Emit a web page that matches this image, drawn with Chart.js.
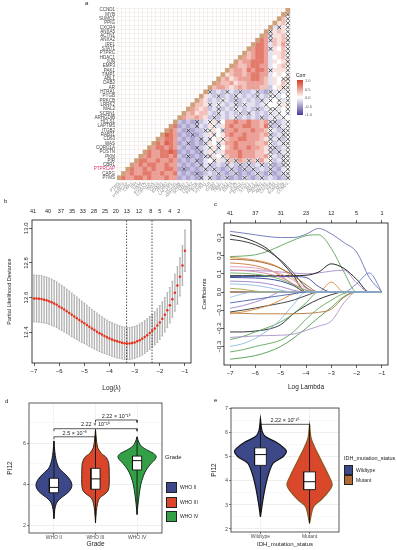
<!DOCTYPE html>
<html>
<head>
<meta charset="utf-8">
<title>Figure panels a-e</title>
<script src="https://cdn.jsdelivr.net/npm/chart.js@4.4.1/dist/chart.umd.min.js"></script>
<style>
  html, body { margin: 0; padding: 0; background: #fff; }
  body { position: relative; width: 397px; height: 550px; overflow: hidden;
         font-family: "Liberation Sans", Arial, sans-serif; color: #222; }
  canvas { position: absolute; }
  .txt { position: absolute; white-space: nowrap; line-height: 1; }
  .key { position: absolute; box-sizing: border-box; border: 1px solid #222; }
</style>
</head>
<body>
  <canvas id="corrChart" width="300" height="197" style="left:0px;top:0px"></canvas>
  <canvas id="cvChart" width="197" height="198" style="left:0px;top:197px"></canvas>
  <canvas id="pathChart" width="200" height="198" style="left:197px;top:197px"></canvas>
  <canvas id="gradeChart" width="200" height="155" style="left:0px;top:395px"></canvas>
  <canvas id="idhChart" width="197" height="155" style="left:200px;top:395px"></canvas>

  <div class="txt" style="left:85px;top:0px;font-size:6px">a</div>
  <div class="txt" style="left:4px;top:198px;font-size:6px">b</div>
  <div class="txt" style="left:214px;top:201px;font-size:6px">c</div>
  <div class="txt" style="left:5px;top:398px;font-size:6px">d</div>
  <div class="txt" style="left:214px;top:397px;font-size:6px">e</div>

  <div id="corrLegend"></div>
  <div id="gradeLegend"></div>
  <div id="idhLegend"></div>

<script>
document.addEventListener('DOMContentLoaded', () => {

  /* ---------- a: correlation heatmap ---------- */
  const genes = ['CCND1','MYB','SUMO1','PPIG','CXCR4','ANXA5','ACTN1','ANXA2','IRF1','STAT1',
    'PTPRC','HDAC1','JUN','EMP3','PAK1','TIMP1','ABL1','DAB2','AR','HTRA1',
    'PYGB','PRKCB','LRRK2','MAL2','SCRN1','ARHGDIB','HCLS1','LAPTM5','ITGB2','RAB31',
    'CD63','WAS','CORO1A','POSTN','PKM','PIR','CBR1','PTPRCAP','CAPG','PTMS'];

  // one string per row, cells left→right up to the last column;
  // letter = correlation level, upper case = not significant (crossed)
  const corrRows = [
    '', 'F', 'gE', 'fgE', 'dDfE', 'DfgfE', 'hDffgE', 'ihDgfgF', 'iihdgfhE', 'hiihDfegE',
    'ghiihdffgE', 'hghiihdefgE', 'ghhiiihdfefF', 'hgghiihhdefgE', 'ghhgihiihDfffE',
    'fghhghiihhdefeE', 'ghfghhhiihgdfeEF', 'hgghfgghhhhgdfegE', 'ghhgfghghhhggcefFE',
    'DcdcDdcDccdDcbDdEdE',
    'fdcDcdcDdcdcDdcEEdeE',
    'gfcdcEdcDcdcdcDdEeEdE',
    'ggfDdEdcdDcEddcdEeeEfE',
    'hgfgcdDcdcEdcdcDcdEEdeE',
    'ghfggdcDdcdcEcDdcdcEdEeE',
    'hgghgfcDcdcdEcdcdcDcdEdEe',
    'cbcbCcdEfDehhihhihhghDDcdE',
    'ibcbcCdcfEdfhihhiihhgiDcDdE',
    'ihcbCbccDEfeDhhihhhihhgEdcDE',
    'jihbcbCbcdfDefhihhihhhghDcdDE',
    'hiihcbcbcCdDefEghhiihhhgfDdDcE',
    'ihjihbcCbcbDfeDfhhihhhhgghEcdDE',
    'hiihihcbcbCcdEfDeghihhihhgfDDcdE',
    'ihhiijibcbcbCdfEdfhhhihhhggfDcDdE',
    'hihhiihicbCbcbDDfeEghhihhhgghEdcDE',
    'iihhihhihbcbcCbdeDfdDgDhgDgDhfEcdDE',
    'hihiihhihhcbcbcCdDcdcDdcDcDcdDcEbcDE',
    'ihhihihhiihbCbcbcDcDcbcDcbDcDcdcDcbdE',
    'hihhiihhihhicbcbCbcdcDcbcDbcbcDcbDbcDE',
    'ihhiihihhhihhbcbcbCdDcbcDbcbDcbcDcdcbcD'
  ];
  const corrLevels = { a: -0.6, b: -0.45, c: -0.3, d: -0.15, e: 0, f: 0.15, g: 0.32, h: 0.48, i: 0.68, j: 0.82 };
  const corrTickLabels = ['1.0', '0.5', '0.0', '-0.5', '-1.0'];

  /* ---------- b: cross-validation curve ---------- */
  const cvLogLambda = [-7.0,-6.9,-6.8,-6.7,-6.6,-6.5,-6.4,-6.3,-6.2,-6.1,
    -6.0,-5.9,-5.8,-5.7,-5.6,-5.5,-5.4,-5.3,-5.2,-5.1,
    -5.0,-4.9,-4.8,-4.7,-4.6,-4.5,-4.4,-4.3,-4.2,-4.1,
    -4.0,-3.9,-3.8,-3.7,-3.6,-3.5,-3.4,-3.3,-3.2,-3.1,
    -3.0,-2.9,-2.8,-2.7,-2.6,-2.5,-2.4,-2.3,-2.2,-2.1,
    -2.0,-1.9,-1.8,-1.7,-1.6,-1.5,-1.4,-1.3,-1.2,-1.1,-1.0];
  const cvMean = [12.595,12.594,12.593,12.591,12.588,12.584,12.579,12.573,12.566,12.558,
    12.549,12.540,12.531,12.521,12.511,12.500,12.490,12.480,12.470,12.460,
    12.451,12.441,12.431,12.421,12.412,12.403,12.394,12.386,12.378,12.371,
    12.364,12.358,12.352,12.347,12.343,12.339,12.336,12.334,12.334,12.337,
    12.341,12.347,12.354,12.362,12.372,12.383,12.395,12.408,12.422,12.438,
    12.456,12.477,12.501,12.527,12.556,12.590,12.628,12.670,12.720,12.785,12.870];
  const cvSd = [0.135,0.135,0.135,0.135,0.134,0.134,0.134,0.133,0.133,0.132,
    0.131,0.130,0.129,0.128,0.127,0.126,0.124,0.123,0.121,0.119,
    0.117,0.115,0.113,0.111,0.109,0.107,0.105,0.103,0.101,0.099,
    0.098,0.097,0.096,0.095,0.094,0.093,0.093,0.092,0.092,0.092,
    0.092,0.092,0.093,0.093,0.094,0.094,0.095,0.095,0.096,0.097,
    0.098,0.099,0.100,0.101,0.102,0.104,0.106,0.108,0.110,0.114,0.120];
  const cvLambdaMin = -3.32;
  const cvLambda1se = -2.31;
  const cvBottomTicks = [-7, -6, -5, -4, -3, -2, -1];
  const cvTopPos = [-7.04,-6.44,-5.93,-5.49,-5.06,-4.62,-4.18,-3.75,-3.31,-2.83,-2.36,-2.00,-1.60,-1.25];
  const cvTopLabels = ['41','40','37','35','33','28','25','20','13','12','8','5','4','2'];
  const cvYTicks = [12.4, 12.6, 12.8, 13.0];

  /* ---------- c: coefficient paths ---------- */
  const pathKnots = [-7, -6.5, -6, -5.5, -5, -4.5, -4, -3.5, -3, -2.5, -2, -1.5, -1];
  const pathTopPos = [-7, -6, -5, -4, -3, -2, -1];
  const pathTopLabels = ['41', '37', '31', '23', '12', '5', '1'];
  const pathYTicks = [-0.3, -0.2, -0.1, 0, 0.1, 0.2, 0.3];
  const coefValues = [
    [0,0,0,0,0,0,0,0,0,0,0,0,0],
    [.334,.325,.315,.305,.300,.300,.318,.350,.320,.272,.220,.080,0],
    [.195,.198,.205,.225,.255,.285,.310,.315,.240,.110,0,0,0],
    [.315,.300,.275,.235,.170,.090,0,0,0,0,0,0,0],
    [.290,.280,.260,.225,.175,.105,.025,0,0,0,0,0,0],
    [.120,.120,.118,.115,.110,.105,.100,.105,.115,.120,.050,0,0],
    [.090,.090,.090,.090,.090,.090,.092,.110,.155,.130,.070,0,0],
    [0,0,0,0,0,0,0,0,0,0,.045,.105,0],
    [0,0,0,0,0,0,0,0,.055,0,0,0,0],
    [.190,.185,.175,.160,.130,.075,0,0,0,0,0,0,0],
    [.180,.178,.170,.155,.130,.090,.040,0,0,0,0,0,0],
    [.160,.155,.145,.125,.090,.040,0,0,0,0,0,0,0],
    [.140,.138,.132,.120,.100,.065,.020,0,0,0,0,0,0],
    [.085,.085,.085,.085,.085,.085,.080,.030,0,0,0,0,0],
    [.080,.079,.077,.072,.060,.035,0,0,0,0,0,0,0],
    [.060,.058,.054,.045,.030,.010,0,0,0,0,0,0,0],
    [.045,.042,.036,.025,.010,0,0,0,0,0,0,0,0],
    [.120,.118,.112,.100,.080,.045,.010,0,0,0,0,0,0],
    [.105,.103,.098,.088,.070,.040,.010,0,0,0,0,0,0],
    [.020,.015,.005,0,0,0,0,0,0,0,0,0,0],
    [-.220,-.220,-.215,-.205,-.180,-.120,-.075,-.040,-.015,0,0,0,0],
    [-.262,-.245,-.220,-.195,-.165,-.120,-.060,0,0,0,0,0,0],
    [-.300,-.285,-.255,-.210,-.150,-.070,0,0,0,0,0,0,0],
    [-.330,-.318,-.300,-.285,-.265,-.220,-.150,-.090,-.045,-.008,0,0,0],
    [-.370,-.362,-.350,-.330,-.300,-.255,-.200,-.140,-.085,-.025,0,0,0],
    [-.250,-.246,-.242,-.240,-.238,-.232,-.212,-.188,-.160,-.060,0,0,0],
    [-.115,-.118,-.120,-.120,-.120,-.120,-.118,-.112,-.095,-.030,0,0,0],
    [-.110,-.100,-.088,-.075,-.062,-.045,-.020,0,0,0,0,0,0],
    [-.120,-.110,-.095,-.075,-.045,-.010,0,0,0,0,0,0,0],
    [-.090,-.075,-.055,-.030,0,0,0,0,0,0,0,0,0],
    [-.030,-.010,0,0,0,0,0,0,0,0,0,0,0],
    [-.060,-.050,-.040,-.030,-.020,-.010,0,0,0,0,0,0,0],
    [null,null,null,null,null,null,0,0,0,0,0,0,0]
  ];
  const coefColors = ['#222222','#6673b8','#5ca35a','#1b1b1b','#2a2a2a','#a58bc9','#111111','#6b7fc4',
    '#d9863c','#e0903f','#a0602d','#cf7a35','#e597b5','#34479a','#2f3f8a','#9a80c4','#8dbbe0',
    '#d98aa8','#6fae5f','#a3a83f','#1f1f1f','#58a257','#8cc0dc','#5da75b','#4f9a4e','#a993c9',
    '#b7773a','#333333','#dd8a3e','#9d86c6','#95c6e0','#4a63b0','#9fd0dc'];

  /* ---------- d: PI12 by grade ---------- */
  const gradeNames = ['WHO II', 'WHO III', 'WHO IV'];
  const gradeViolinY = [
    [2.35, 2.8, 3.1, 3.3, 3.5, 3.7, 3.9, 4.1, 4.3, 4.5, 4.8, 5.2, 5.6, 6.1],
    [2.15, 2.7, 3.1, 3.35, 3.5, 3.7, 4.0, 4.5, 5.0, 5.3, 5.5, 5.8, 6.2, 6.65],
    [2.55, 3.0, 3.5, 4.0, 4.4, 4.7, 5.0, 5.2, 5.35, 5.5, 5.65, 5.85, 6.05, 6.3]
  ];
  const gradeViolinW = [
    [0, 0.02, 0.06, 0.14, 0.27, 0.38, 0.43, 0.42, 0.36, 0.27, 0.12, 0.05, 0.02, 0],
    [0, 0.02, 0.05, 0.10, 0.20, 0.30, 0.33, 0.33, 0.32, 0.26, 0.14, 0.05, 0.02, 0],
    [0, 0.02, 0.05, 0.09, 0.15, 0.22, 0.33, 0.43, 0.46, 0.40, 0.25, 0.10, 0.04, 0]
  ];
  const gradeBox = [[3.6, 3.86, 4.3], [3.77, 4.27, 4.78], [4.7, 5.15, 5.37]];
  const gradePairs = [[1, 2], [1, 3], [2, 3]];
  const gradePairY = [6.3, 6.69, 7.11];
  const gradePairText = ['2.5 \u00d7 10\u207b\u2078', '2.22 \u00d7 10\u207b\u00b9\u2076', '2.22 \u00d7 10\u207b\u00b9\u2076'];
  const gradeYTicks = [2, 3, 4, 5, 6, 7];

  /* ---------- e: PI12 by IDH status ---------- */
  const idhNames = ['Wildtype', 'Mutant'];
  const idhViolinY = [
    [2.5, 3.08, 3.76, 4.32, 4.74, 5.01, 5.22, 5.36, 5.64, 5.85, 6.1, 6.6],
    [2.24, 2.93, 3.21, 3.49, 3.83, 4.18, 4.6, 5.01, 5.43, 5.8, 6.33]
  ];
  const idhViolinW = [
    [0, 0.04, 0.10, 0.17, 0.26, 0.46, 0.53, 0.49, 0.30, 0.10, 0.03, 0],
    [0, 0.08, 0.23, 0.36, 0.46, 0.40, 0.30, 0.20, 0.10, 0.03, 0]
  ];
  const idhBox = [[4.65, 5.1, 5.38], [3.64, 3.97, 4.38]];
  const idhPairY = 6.36;
  const idhPairText = '2.22 \u00d7 10\u207b\u00b9\u2076';
  const idhYTicks = [2, 2.5, 3, 3.5, 4, 4.5, 5, 5.5, 6, 6.5, 7];

  /* ---------- shared helpers ---------- */
  const FONT = '"Liberation Sans", Arial, sans-serif';
  Chart.defaults.font.family = FONT;
  Chart.defaults.color = '#222';
  Chart.defaults.animation = false;
  Chart.defaults.events = [];
  Chart.defaults.plugins.legend.display = false;
  Chart.defaults.plugins.tooltip.enabled = false;

  const ticksAt = values => scale => { scale.ticks = values.map(value => ({ value })); };
  const fixWidth = w => scale => { scale.width = w; };
  const fixHeight = h => scale => { scale.height = h; };
  const minus = v => String(v).replace('-', '\u2212');

  const framePlugin = {
    id: 'frame',
    afterDatasetsDraw(chart, args, opts) {
      const a = chart.chartArea, ctx = chart.ctx;
      ctx.save();
      ctx.strokeStyle = opts.color;
      ctx.lineWidth = opts.width;
      ctx.strokeRect(a.left, a.top, a.right - a.left, a.bottom - a.top);
      ctx.restore();
    }
  };

  const pLabelPlugin = {
    id: 'pLabels',
    afterDatasetsDraw(chart, args, opts) {
      const { ctx, scales } = chart;
      ctx.save();
      ctx.font = opts.size + 'px ' + FONT;
      ctx.fillStyle = '#222';
      ctx.textAlign = 'center';
      ctx.textBaseline = 'bottom';
      opts.items.forEach(it => {
        ctx.fillText(it.text, scales.x.getPixelForValue(it.x), scales.y.getPixelForValue(it.y));
      });
      ctx.restore();
    }
  };

  function violinShape(center, ys, ws) {
    const right = ys.map((y, i) => ({ x: center + ws[i], y }));
    const left = ys.map((y, i) => ({ x: center - ws[i], y })).reverse();
    return right.concat(left);
  }
  function boxShape(center, half, q) {
    return [{ x: center - half, y: q[0] }, { x: center + half, y: q[0] }, { x: center + half, y: q[2] },
            { x: center - half, y: q[2] }, { x: center - half, y: q[0] }];
  }
  function bracket(a, b, y, leg) {
    return [{ x: a, y: y - leg }, { x: a, y }, { x: b, y }, { x: b, y: y - leg }];
  }
  const lineSet = (data, color, width, order, extra) => Object.assign({
    data, showLine: true, borderColor: color, borderWidth: width, pointRadius: 0, order
  }, extra || {});

  /* ---------- a: build cells ---------- */
  const n = genes.length;
  const corrCells = [], corrDiag = [], corrCross = [];
  corrRows.forEach((row, r) => {
    corrDiag.push({ x: n - 1 - r, y: r });
    const chars = row.split('');
    chars.forEach((ch, k) => {
      const col = n - 1 - (chars.length - 1 - k);
      corrCells.push({ x: col, y: r, v: corrLevels[ch.toLowerCase()] });
      if (ch !== ch.toLowerCase()) corrCross.push({ x: col, y: r });
    });
  });

  function corrColor(v) {
    const hi = [214, 60, 38], mid = [255, 255, 255], lo = [75, 58, 154];
    const end = v >= 0 ? hi : lo, t = Math.min(1, Math.abs(v));
    const c = mid.map((m, i) => Math.round(m + (end[i] - m) * t));
    return 'rgb(' + c.join(',') + ')';
  }
  const cellPx = chart => Math.abs(chart.scales.x.getPixelForValue(1) - chart.scales.x.getPixelForValue(0));
  const rectRadius = ctx => (cellPx(ctx.chart) + 0.4) / Math.SQRT2;

  const gridSteps = [];
  for (let v = -0.5; v <= n - 0.5; v += 0.5) gridSteps.push(v);
  const halfGrid = ctx => (ctx.tick && !Number.isInteger(ctx.tick.value)) ? '#efe5e3' : 'rgba(0,0,0,0)';

  new Chart(document.getElementById('corrChart'), {
    type: 'scatter',
    data: {
      datasets: [
        { data: corrCross, pointStyle: 'crossRot', pointRadius: ctx => cellPx(ctx.chart) * 0.62,
          borderColor: '#2b2b2b', borderWidth: 0.8, backgroundColor: 'rgba(0,0,0,0)' },
        { data: corrDiag, pointStyle: 'rect', pointRadius: rectRadius, backgroundColor: '#cfa27c', borderWidth: 0 },
        { data: corrCells, pointStyle: 'rect', pointRadius: rectRadius,
          backgroundColor: corrCells.map(c => corrColor(c.v)), borderWidth: 0 }
      ]
    },
    options: {
      responsive: false,
      layout: { padding: { top: 8, right: 10, left: 0, bottom: 0 } },
      scales: {
        x: {
          type: 'linear', min: -0.5, max: n - 0.5,
          afterBuildTicks: ticksAt(gridSteps),
          afterFit: fixHeight(17),
          ticks: { autoSkip: false, minRotation: 45, maxRotation: 45, padding: 1,
                   font: { size: 4.3 }, color: '#8a8a8a',
                   callback: v => Number.isInteger(v) ? genes[n - 1 - v] : '' },
          grid: { color: halfGrid, lineWidth: 0.6, drawTicks: false },
          border: { display: false }
        },
        y: {
          type: 'linear', min: -0.5, max: n - 0.5, reverse: true,
          afterBuildTicks: ticksAt(gridSteps),
          afterFit: fixWidth(117),
          ticks: { autoSkip: false, padding: 2, font: { size: 4.5 },
                   color: ctx => (ctx.tick && genes[ctx.tick.value] === 'PTPRCAP') ? '#d6336c' : '#444',
                   callback: v => Number.isInteger(v) ? genes[v] : '' },
          grid: { color: halfGrid, lineWidth: 0.6, drawTicks: false },
          border: { display: false }
        }
      }
    }
  });

  // colour bar legend for panel a
  const corrLegend = document.getElementById('corrLegend');
  corrLegend.innerHTML =
    '<div class="txt" style="left:296px;top:73px;font-size:5px">Corr</div>' +
    '<div style="position:absolute;left:297px;top:80px;width:6px;height:35px;' +
    'background:linear-gradient(' + corrColor(1) + ',' + corrColor(0) + ',' + corrColor(-1) + ')"></div>' +
    corrTickLabels.map((t, i) =>
      '<div class="txt" style="left:305px;top:' + (79 + i * 8.5) + 'px;font-size:4px;color:#555">' + t + '</div>').join('');

  /* ---------- b ---------- */
  const cvYMin = 12.222, cvYMax = 13.048, cvXMin = -7.08, cvXMax = -0.76;
  const cvDatasets = [
    { data: cvLogLambda.map((x, i) => ({ x, y: cvMean[i] })), pointRadius: 1.25,
      backgroundColor: '#e8301c', borderWidth: 0, order: 0 },
    lineSet([{ x: cvLambdaMin, y: cvYMin }, { x: cvLambdaMin, y: cvYMax }], '#222', 0.8, 1, { borderDash: [1.5, 1.5] }),
    lineSet([{ x: cvLambda1se, y: cvYMin }, { x: cvLambda1se, y: cvYMax }], '#222', 0.8, 1, { borderDash: [1.5, 1.5] }),
    { data: cvLogLambda.flatMap((x, i) => [{ x, y: cvMean[i] - cvSd[i] }, { x, y: cvMean[i] + cvSd[i] }]),
      pointStyle: 'line', pointRadius: 1.1, borderColor: '#b3b3b3', borderWidth: 0.7, order: 2 },
    { type: 'bar', data: cvLogLambda.map((x, i) => ({ x, y: [cvMean[i] - cvSd[i], cvMean[i] + cvSd[i]] })),
      backgroundColor: '#b3b3b3', barThickness: 0.7, borderWidth: 0, order: 3 }
  ];

  new Chart(document.getElementById('cvChart'), {
    type: 'scatter',
    data: { datasets: cvDatasets },
    options: {
      responsive: false,
      layout: { padding: { top: 0, right: 6, left: 0, bottom: 0 } },
      plugins: { frame: { color: '#111', width: 0.8 } },
      scales: {
        x: {
          type: 'linear', position: 'bottom', min: cvXMin, max: cvXMax, offset: false,
          afterBuildTicks: ticksAt(cvBottomTicks), afterFit: fixHeight(32),
          ticks: { autoSkip: false, maxRotation: 0, padding: 2, font: { size: 6 }, callback: v => minus(v) },
          grid: { drawOnChartArea: false, offset: false, tickLength: 3, color: '#222', lineWidth: 0.7 },
          border: { display: false },
          title: { display: true, text: 'Log(\u03bb)', font: { size: 6.5 }, padding: { top: 0, bottom: 3 } }
        },
        x2: {
          type: 'linear', position: 'top', min: cvXMin, max: cvXMax,
          afterBuildTicks: ticksAt(cvTopPos), afterFit: fixHeight(23),
          ticks: { autoSkip: false, maxRotation: 0, padding: 5, font: { size: 5.5 }, callback: (v, i) => cvTopLabels[i] },
          grid: { display: false, drawTicks: false },
          border: { display: false }
        },
        y: {
          type: 'linear', min: cvYMin, max: cvYMax,
          afterBuildTicks: ticksAt(cvYTicks), afterFit: fixWidth(32),
          ticks: { minRotation: 90, maxRotation: 90, crossAlign: 'center', padding: -3,
                   font: { size: 6 }, callback: v => v.toFixed(1) },
          grid: { drawOnChartArea: false, tickLength: 3, color: '#222', lineWidth: 0.7 },
          border: { display: false },
          title: { display: true, text: 'Partial Likelihood Deviance', font: { size: 5.5 }, padding: { top: 6, bottom: 0 } }
        }
      }
    },
    plugins: [framePlugin]
  });

  /* ---------- c ---------- */
  const pathDatasets = coefValues.map((vals, k) => ({
    data: pathKnots.map((x, i) => ({ x, y: vals[i] })),
    borderColor: coefColors[k], borderWidth: 0.9, pointRadius: 0,
    cubicInterpolationMode: 'monotone', spanGaps: false, order: coefValues.length - k
  }));

  new Chart(document.getElementById('pathChart'), {
    type: 'line',
    data: { datasets: pathDatasets },
    options: {
      responsive: false,
      layout: { padding: { top: 0, right: 9, left: 0, bottom: 0 } },
      plugins: { frame: { color: '#111', width: 0.8 } },
      scales: {
        x: {
          type: 'linear', position: 'bottom', min: -7.24, max: -0.76,
          afterBuildTicks: ticksAt(pathTopPos), afterFit: fixHeight(30),
          ticks: { autoSkip: false, maxRotation: 0, padding: 2, font: { size: 6 }, callback: v => minus(v) },
          grid: { drawOnChartArea: false, tickLength: 3, color: '#222', lineWidth: 0.7 },
          border: { display: false },
          title: { display: true, text: 'Log Lambda', font: { size: 6.5 }, padding: { top: 0, bottom: 4 } }
        },
        x2: {
          type: 'linear', position: 'top', min: -7.24, max: -0.76,
          afterBuildTicks: ticksAt(pathTopPos), afterFit: fixHeight(26),
          ticks: { autoSkip: false, maxRotation: 0, padding: 3, font: { size: 5.5 }, callback: (v, i) => pathTopLabels[i] },
          grid: { drawOnChartArea: false, tickLength: 3, color: '#222', lineWidth: 0.7 },
          border: { display: false }
        },
        y: {
          type: 'linear', min: -0.402, max: 0.38,
          afterBuildTicks: ticksAt(pathYTicks), afterFit: fixWidth(27),
          ticks: { minRotation: 90, maxRotation: 90, crossAlign: 'center', padding: -4,
                   font: { size: 6 }, callback: v => minus(v.toFixed(1)) },
          grid: { drawOnChartArea: false, tickLength: 3, color: '#222', lineWidth: 0.7 },
          border: { display: false },
          title: { display: true, text: 'Coefficients', font: { size: 6 }, padding: { top: 4, bottom: 0 } }
        }
      }
    },
    plugins: [framePlugin]
  });

  /* ---------- d ---------- */
  const gradeFill = ['#3d4889', '#d9462c', '#33a047'];
  const gradeEdge = ['#141414', '#3b2a10', '#10301a'];
  const BOX_D = 0.11, LEG_D = 0.12;
  const gradeDatasets = [];
  gradeNames.forEach((name, g) => {
    const c = g + 1, ys = gradeViolinY[g];
    gradeDatasets.push(lineSet([{ x: c - BOX_D, y: gradeBox[g][1] }, { x: c + BOX_D, y: gradeBox[g][1] }], '#111', 1, 1));
    gradeDatasets.push(lineSet(boxShape(c, BOX_D, gradeBox[g]), '#111', 0.9, 2, { fill: 'shape', backgroundColor: '#fff' }));
    gradeDatasets.push(lineSet([{ x: c, y: ys[0] }, { x: c, y: ys[ys.length - 1] }], '#111', 0.9, 3));
    gradeDatasets.push(lineSet(violinShape(c, ys, gradeViolinW[g]), gradeEdge[g], 1, 4,
      { fill: 'shape', backgroundColor: gradeFill[g], tension: 0.3 }));
  });
  gradePairs.forEach((p, k) => gradeDatasets.push(lineSet(bracket(p[0], p[1], gradePairY[k], LEG_D), '#111', 0.7, 0)));

  const ggGrid = minor => ctx => (ctx.tick && minor(ctx.tick.value)) ? '#f2f2f2' : '#e3e3e3';
  const ggTick = minor => ctx => (ctx.tick && minor(ctx.tick.value)) ? 'rgba(0,0,0,0)' : '#333';

  new Chart(document.getElementById('gradeChart'), {
    type: 'scatter',
    data: { datasets: gradeDatasets },
    options: {
      responsive: false,
      layout: { padding: { top: 8, right: 38, left: 0, bottom: 0 } },
      plugins: {
        frame: { color: '#333', width: 0.8 },
        pLabels: { size: 5.5, items: gradePairs.map((p, k) => ({ x: (p[0] + p[1]) / 2, y: gradePairY[k] + 0.05, text: gradePairText[k] })) }
      },
      scales: {
        x: {
          type: 'linear', min: 0.4, max: 3.6,
          afterBuildTicks: ticksAt([1, 2, 3]), afterFit: fixHeight(17),
          ticks: { autoSkip: false, maxRotation: 0, padding: 0, font: { size: 5 }, color: '#4d4d4d',
                   callback: (v, i) => gradeNames[i] },
          grid: { color: '#ebebeb', lineWidth: 0.6, tickLength: 2, tickColor: '#333' },
          border: { display: false },
          title: { display: true, text: 'Grade', font: { size: 6.5 }, padding: { top: 0, bottom: 2 } }
        },
        y: {
          type: 'linear', min: 1.66, max: 7.93,
          afterBuildTicks: ticksAt(gradeYTicks), afterFit: fixWidth(29),
          ticks: { autoSkip: false, padding: 1, font: { size: 5.5 }, color: '#4d4d4d',
                   callback: v => v % 2 === 0 ? String(v) : '' },
          grid: { color: ggGrid(v => v % 2 !== 0), lineWidth: 0.6, tickLength: 2, tickColor: ggTick(v => v % 2 !== 0) },
          border: { display: false },
          title: { display: true, text: 'PI12', font: { size: 6.5 }, padding: { top: 6, bottom: 0 } }
        }
      }
    },
    plugins: [framePlugin, pLabelPlugin]
  });

  document.getElementById('gradeLegend').innerHTML =
    '<div class="txt" style="left:165px;top:454px;font-size:6px">Grade</div>' +
    gradeNames.map((nm, g) =>
      '<div class="key" style="left:166px;top:' + (482 + g * 14.5) + 'px;width:11px;height:11px;background:' + gradeFill[g] + '"></div>' +
      '<div class="txt" style="left:180px;top:' + (485 + g * 14.5) + 'px;font-size:5px">' + nm + '</div>').join('');

  /* ---------- e ---------- */
  const idhFill = ['#3d4889', '#d9482a'];
  const idhEdge = ['#141414', '#8a5a20'];
  const idhKey = ['#3d4889', '#b06a35'];
  const BOX_E = 0.12, LEG_E = 0.12;
  const idhDatasets = [];
  idhNames.forEach((name, g) => {
    const c = g + 1, ys = idhViolinY[g];
    idhDatasets.push(lineSet([{ x: c - BOX_E, y: idhBox[g][1] }, { x: c + BOX_E, y: idhBox[g][1] }], '#111', 1, 1));
    idhDatasets.push(lineSet(boxShape(c, BOX_E, idhBox[g]), '#111', 0.9, 2, { fill: 'shape', backgroundColor: '#fff' }));
    idhDatasets.push(lineSet([{ x: c, y: ys[0] }, { x: c, y: ys[ys.length - 1] }], '#111', 0.9, 3));
    idhDatasets.push(lineSet(violinShape(c, ys, idhViolinW[g]), idhEdge[g], 1.2, 4,
      { fill: 'shape', backgroundColor: idhFill[g], tension: 0.3 }));
  });
  idhDatasets.push(lineSet(bracket(1, 2, idhPairY, LEG_E), '#111', 0.7, 0));

  new Chart(document.getElementById('idhChart'), {
    type: 'scatter',
    data: { datasets: idhDatasets },
    options: {
      responsive: false,
      layout: { padding: { top: 13, right: 58, left: 0, bottom: 0 } },
      plugins: {
        frame: { color: '#333', width: 0.8 },
        pLabels: { size: 5.5, items: [{ x: 1.5, y: idhPairY + 0.05, text: idhPairText }] }
      },
      scales: {
        x: {
          type: 'linear', min: 0.4, max: 2.6,
          afterBuildTicks: ticksAt([1, 2]), afterFit: fixHeight(18),
          ticks: { autoSkip: false, maxRotation: 0, padding: 0, font: { size: 5 }, color: '#4d4d4d',
                   callback: (v, i) => idhNames[i] },
          grid: { color: '#ebebeb', lineWidth: 0.6, tickLength: 2, tickColor: '#333' },
          border: { display: false },
          title: { display: true, text: 'IDH_mutation_status', font: { size: 6 }, padding: { top: 0, bottom: 2 } }
        },
        y: {
          type: 'linear', min: 1.875, max: 7.04,
          afterBuildTicks: ticksAt(idhYTicks), afterFit: fixWidth(31),
          ticks: { autoSkip: false, padding: 1, font: { size: 5.5 }, color: '#4d4d4d',
                   callback: v => Number.isInteger(v) ? String(v) : '' },
          grid: { color: ggGrid(v => !Number.isInteger(v)), lineWidth: 0.6, tickLength: 2,
                  tickColor: ggTick(v => !Number.isInteger(v)) },
          border: { display: false },
          title: { display: true, text: 'PI12', font: { size: 6.5 }, padding: { top: 10, bottom: 0 } }
        }
      }
    },
    plugins: [framePlugin, pLabelPlugin]
  });

  document.getElementById('idhLegend').innerHTML =
    '<div class="txt" style="left:344px;top:456px;font-size:5.5px">IDH_mutation_status</div>' +
    idhNames.map((nm, g) =>
      '<div class="key" style="left:344px;top:' + (465 + g * 10) + 'px;width:9px;height:10px;background:' + idhKey[g] + '"></div>' +
      '<div class="txt" style="left:356px;top:' + (468 + g * 10) + 'px;font-size:5px">' + nm + '</div>').join('');
});
</script>
</body>
</html>
